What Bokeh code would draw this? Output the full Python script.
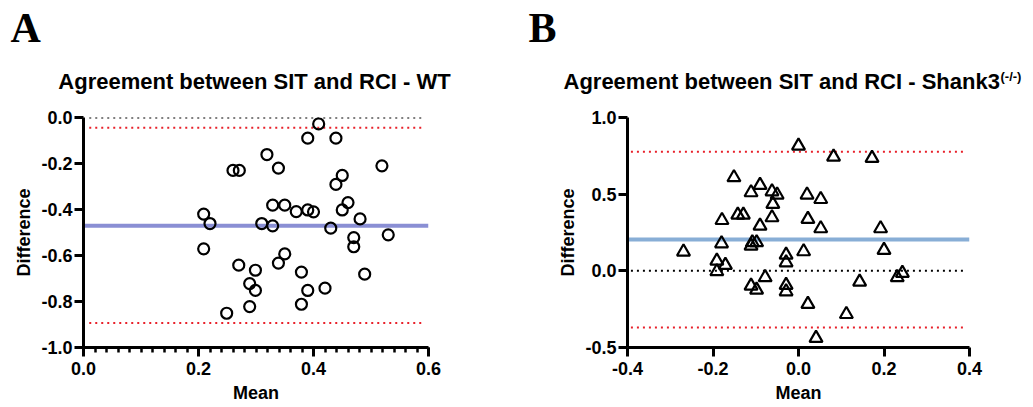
import math
from bokeh.plotting import figure
from bokeh.models import Range1d, Label, FixedTicker, PrintfTickFormatter
from bokeh.layouts import row, column
from bokeh.embed import file_html
from bokeh.resources import INLINE

# ---------------- data ----------------
# Panel A: WT (mean vs difference)
wt_mean = [0.409, 0.390, 0.439, 0.319, 0.260, 0.271, 0.339, 0.519, 0.450, 0.439,
           0.329, 0.350, 0.370, 0.390, 0.400, 0.460, 0.450, 0.481, 0.209, 0.220,
           0.310, 0.329, 0.430, 0.470, 0.470, 0.530, 0.209, 0.350, 0.339, 0.270,
           0.299, 0.379, 0.489, 0.289, 0.299, 0.390, 0.420, 0.379, 0.289, 0.249]
wt_diff = [-0.028, -0.090, -0.090, -0.161, -0.230, -0.230, -0.220, -0.210, -0.252, -0.291,
           -0.381, -0.381, -0.409, -0.402, -0.410, -0.370, -0.402, -0.441, -0.420, -0.461,
           -0.461, -0.471, -0.481, -0.522, -0.562, -0.510, -0.571, -0.593, -0.633, -0.642,
           -0.664, -0.672, -0.681, -0.722, -0.752, -0.752, -0.742, -0.812, -0.822, -0.851]
wt_bias = -0.471
wt_loa = [-0.045, -0.894]

# Panel B: Shank3(-/-)
ko_mean = [0.000, 0.082, 0.172, -0.151, -0.090, -0.111, -0.062, -0.050, 0.020, 0.052,
           -0.060, -0.142, -0.129, -0.179, -0.062, 0.022, -0.090, 0.052, 0.192, -0.180,
           -0.111, -0.108, -0.098, -0.269, 0.012, -0.029, -0.029, 0.200, -0.191, -0.191,
           -0.171, -0.078, -0.111, -0.098, -0.029, -0.029, 0.143, 0.231, 0.243, 0.022,
           0.112, 0.041]
ko_diff = [0.815, 0.743, 0.735, 0.609, 0.559, 0.511, 0.517, 0.496, 0.496, 0.467,
           0.435, 0.365, 0.365, 0.330, 0.348, 0.337, 0.293, 0.276, 0.276, 0.178,
           0.163, 0.185, 0.185, 0.124, 0.126, 0.104, 0.054, 0.135, 0.065, -0.004,
           0.037, -0.043, -0.098, -0.124, -0.093, -0.135, -0.072, -0.043, -0.015, -0.217,
           -0.283, -0.439]
ko_bias = 0.204
ko_loa = [0.776, -0.370]

wt_xticks = [0.0, 0.2, 0.4, 0.6]
wt_yticks = [-1.0, -0.8, -0.6, -0.4, -0.2, 0.0]
ko_xticks = [-0.4, -0.2, 0.0, 0.2, 0.4]
ko_yticks = [-0.5, 0.0, 0.5, 1.0]

SANS = "Liberation Sans"
SERIF = "Liberation Serif"
RED = "#e8202a"
HEAD_H = 100
MAIN_H = 307


def style_axes(p):
    for ax in (p.xaxis[0], p.yaxis[0]):
        ax.axis_line_width = 3
        ax.axis_line_color = "black"
        ax.major_tick_line_width = 3
        ax.major_tick_line_color = "black"
        ax.major_tick_in = 0
        ax.major_tick_out = 9
        ax.minor_tick_line_width = 2.5
        ax.minor_tick_line_color = "black"
        ax.minor_tick_in = 0
        ax.minor_tick_out = 5
        ax.major_label_text_font = SANS
        ax.major_label_text_font_size = "18px"
        ax.major_label_text_font_style = "bold"
        ax.major_label_text_color = "black"
        ax.axis_label_text_font = SANS
        ax.axis_label_text_font_size = "18px"
        ax.axis_label_text_font_style = "bold"
        ax.axis_label_text_color = "black"
        ax.formatter = PrintfTickFormatter(format="%.1f")
    p.xaxis[0].major_label_standoff = 5
    p.yaxis[0].major_label_standoff = 2
    p.xaxis[0].axis_label = "Mean"
    p.yaxis[0].axis_label = "Difference"
    p.xaxis[0].axis_label_standoff = 5
    p.yaxis[0].axis_label_standoff = 4
    p.grid.visible = False
    p.outline_line_color = None


def header(width):
    h = figure(width=width, height=HEAD_H, output_backend="svg", toolbar_location=None,
               x_range=Range1d(0, width), y_range=Range1d(HEAD_H, 0),
               x_axis_type=None, y_axis_type=None, frame_align=False,
               min_border=0, min_border_left=0, min_border_right=0,
               min_border_top=0, min_border_bottom=0)
    h.grid.visible = False
    h.outline_line_color = None
    return h


def lab(p, x, y, text, size, font=SANS, align="center"):
    p.add_layout(Label(x=x, y=y, text=text, text_font=font, text_font_size=size,
                       text_font_style="bold", text_color="black", text_align=align,
                       text_baseline="alphabetic"))


# ---------------- Panel A ----------------
hA = header(520)
lab(hA, 10, 27, "A", "42px", font=SERIF, align="left")
lab(hA, 254, 81, "Agreement between SIT and RCI - WT", "22px")

pA = figure(width=520, height=MAIN_H, output_backend="svg", toolbar_location=None,
            x_range=Range1d(0, 0.6), y_range=Range1d(-1.0, 0.0), frame_align=False,
            min_border_left=83, min_border_right=92, min_border_top=17, min_border_bottom=60)
style_axes(pA)
pA.xaxis[0].ticker = FixedTicker(ticks=wt_xticks,
                                 minor_ticks=[round(i * 0.02, 2) for i in range(31)])
pA.yaxis[0].ticker = FixedTicker(ticks=wt_yticks, minor_ticks=[])

pA.line([0.01, 0.59], [0.0, 0.0], line_color="black", line_width=2, line_dash="2 4")
for v in wt_loa:
    pA.line([0.01, 0.59], [v, v], line_color=RED, line_width=2, line_dash="2 4")
pA.line([0.0, 0.6], [wt_bias, wt_bias], line_color="#8a8fd4", line_width=4)
pA.scatter(wt_mean, wt_diff, marker="circle", size=11, line_color="black",
           line_width=2.2, fill_alpha=0)

# ---------------- Panel B ----------------
hB = header(513)
lab(hB, 8, 27, "B", "42px", font=SERIF, align="left")
lab(hB, 43, 81, "Agreement between SIT and RCI - Shank3", "22px", align="left")
lab(hB, 480, 76, "(-/-)", "13px", align="left")

pB = figure(width=513, height=MAIN_H, output_backend="svg", toolbar_location=None,
            x_range=Range1d(-0.4, 0.4), y_range=Range1d(-0.5, 1.0), frame_align=False,
            min_border_left=107, min_border_right=64, min_border_top=17, min_border_bottom=60)
style_axes(pB)
pB.xaxis[0].ticker = FixedTicker(ticks=ko_xticks, minor_ticks=[])
pB.yaxis[0].ticker = FixedTicker(ticks=ko_yticks, minor_ticks=[])

pB.line([-0.392, 0.393], [0.0, 0.0], line_color="black", line_width=2, line_dash="2 4")
for v in ko_loa:
    pB.line([-0.392, 0.393], [v, v], line_color=RED, line_width=2, line_dash="2 4")
pB.line([-0.4, 0.4], [ko_bias, ko_bias], line_color="#88aed6", line_width=4)
pB.scatter(ko_mean, ko_diff, marker="triangle", size=13, line_color="black",
           line_width=2.2, fill_alpha=0)

layout = row(column(hA, pA), column(hB, pB))
open("out.html", "w").write(file_html(layout, INLINE))
